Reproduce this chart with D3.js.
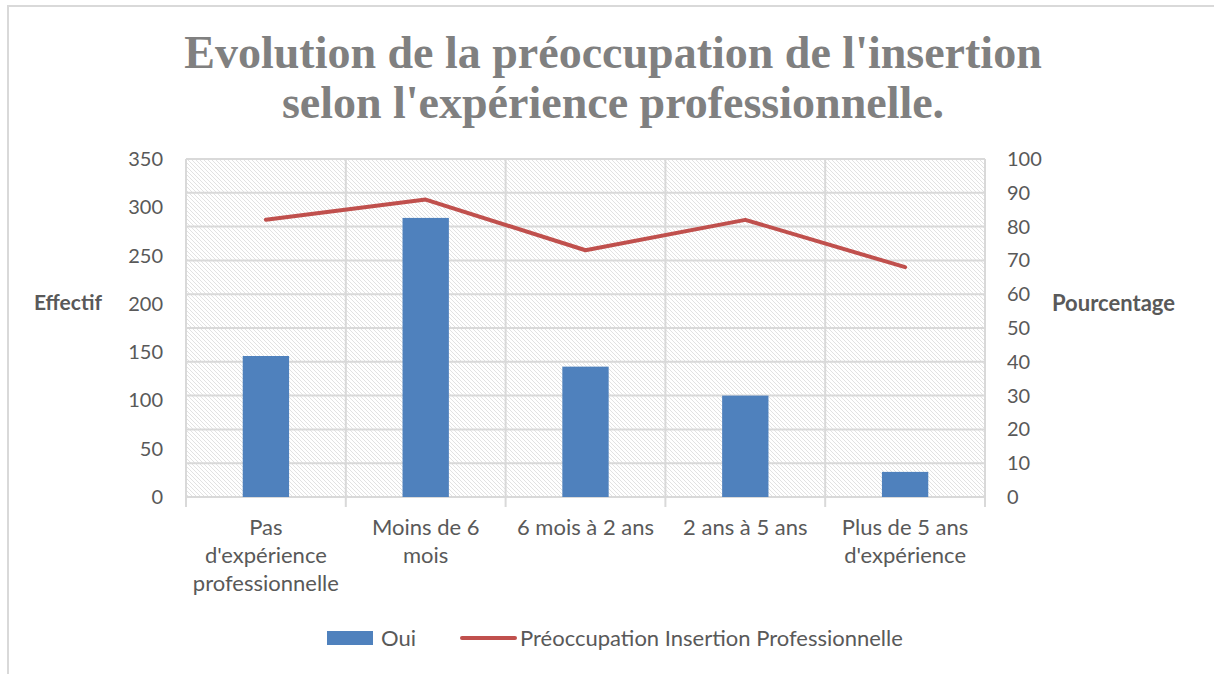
<!DOCTYPE html>
<html>
<head>
<meta charset="utf-8">
<script src="https://cdn.jsdelivr.net/npm/d3@7"></script>
<style>
  body { margin: 0; background: #fff; }
  svg text { font-family: Lato, "Open Sans", sans-serif; fill: #595959; }
  svg text.title { font-family: "Liberation Serif", "DejaVu Serif", serif; fill: #808080; }
</style>
</head>
<body>
<svg id="chart" width="1214" height="674"></svg>
<script>
// data
const categories = [
  ["Pas", "d'expérience", "professionnelle"],
  ["Moins de 6", "mois"],
  ["6 mois à 2 ans"],
  ["2 ans à 5 ans"],
  ["Plus de 5 ans", "d'expérience"]
];
const oui = [146, 289, 135, 105, 26];
const preoccupation = [82, 88, 73, 82, 68];
const leftTicks = [0, 50, 100, 150, 200, 250, 300, 350];
const rightTicks = [0, 10, 20, 30, 40, 50, 60, 70, 80, 90, 100];
const titleLines = ["Evolution de la préoccupation de l'insertion", "selon l'expérience professionnelle."];

const svg = d3.select("#chart");
const plot = { left: 186, right: 985, top: 159, bottom: 497 };

// outer frame (only top/left edges visible)
svg.append("rect")
  .attr("x", 8).attr("y", 6)
  .attr("width", 1230).attr("height", 700)
  .attr("fill", "#fff")
  .attr("stroke", "#d9d9d9").attr("stroke-width", 2);

// hatch pattern for plot background
const pat = svg.append("defs").append("pattern")
  .attr("id", "hatch")
  .attr("patternUnits", "userSpaceOnUse")
  .attr("width", 4).attr("height", 4);
pat.append("path")
  .attr("d", "M-1,-1 L5,5 M-1,3 L1,5 M3,-1 L5,1")
  .attr("stroke", "#e2e2e2").attr("stroke-width", 1);

const idx = d3.range(categories.length);
const x = d3.scaleBand().domain(idx).range([plot.left, plot.right])
  .paddingInner(0.71).paddingOuter(0.355);
const step = (plot.right - plot.left) / categories.length;
const yL = d3.scaleLinear().domain([0, 350]).range([plot.bottom, plot.top]);
const yR = d3.scaleLinear().domain([0, 100]).range([plot.bottom, plot.top]);

svg.append("rect")
  .attr("x", plot.left).attr("y", plot.top)
  .attr("width", plot.right - plot.left).attr("height", plot.bottom - plot.top)
  .attr("fill", "url(#hatch)");

// gridlines
svg.append("g").selectAll("line").data(rightTicks.slice(1)).join("line")
  .attr("x1", plot.left).attr("x2", plot.right)
  .attr("y1", d => yR(d)).attr("y2", d => yR(d))
  .attr("stroke", "#d9d9d9").attr("stroke-width", 2);
svg.append("g").selectAll("line").data(d3.range(categories.length + 1)).join("line")
  .attr("x1", d => plot.left + d * step).attr("x2", d => plot.left + d * step)
  .attr("y1", plot.top).attr("y2", plot.bottom + 10)
  .attr("stroke", "#d9d9d9").attr("stroke-width", 2);
svg.append("line")
  .attr("x1", plot.left).attr("x2", plot.right)
  .attr("y1", plot.bottom).attr("y2", plot.bottom)
  .attr("stroke", "#d9d9d9").attr("stroke-width", 2);

// bars
svg.append("g").selectAll("rect").data(oui).join("rect")
  .attr("x", (d, i) => x(i)).attr("width", x.bandwidth())
  .attr("y", d => yL(d)).attr("height", d => yL(0) - yL(d))
  .attr("fill", "#4f81bd");

// line
const line = d3.line()
  .x((d, i) => x(i) + x.bandwidth() / 2)
  .y(d => yR(d));
svg.append("path").datum(preoccupation)
  .attr("d", line)
  .attr("fill", "none").attr("stroke", "#c0504d")
  .attr("stroke-width", 4).attr("stroke-linecap", "round").attr("stroke-linejoin", "round");

// left axis labels
svg.append("g").selectAll("text").data(leftTicks).join("text")
  .attr("x", 163).attr("y", d => yL(d)).attr("dy", "0.35em")
  .attr("text-anchor", "end").attr("font-size", 20)
  .text(d => d);
// right axis labels
svg.append("g").selectAll("text").data(rightTicks).join("text")
  .attr("x", 1007).attr("y", d => yR(d)).attr("dy", "0.35em")
  .attr("text-anchor", "start").attr("font-size", 20)
  .text(d => d);

svg.append("text").attr("x", 102).attr("y", 303).attr("dy", "0.35em")
  .attr("text-anchor", "end")
  .attr("font-size", 21).attr("font-weight", "bold").text("Effectif");
svg.append("text").attr("x", 1052).attr("y", 303).attr("dy", "0.35em")
  .attr("font-size", 22).attr("font-weight", "bold").text("Pourcentage");

// category labels
svg.append("g").selectAll("text").data(categories).join("text")
  .attr("text-anchor", "middle").attr("font-size", 22)
  .each(function (lines, i) {
    d3.select(this).selectAll("tspan").data(lines).join("tspan")
      .attr("x", x(i) + x.bandwidth() / 2)
      .attr("y", (d, j) => 535 + j * 28)
      .text(d => d);
  });

// title
svg.append("g").selectAll("text").data(titleLines).join("text")
  .attr("class", "title")
  .attr("x", 613).attr("y", (d, i) => 68 + i * 50)
  .attr("text-anchor", "middle")
  .attr("font-weight", "bold").attr("font-size", 46)
  .text(d => d);

// legend
const lg = svg.append("g");
lg.append("rect").attr("x", 327).attr("y", 631).attr("width", 46).attr("height", 14).attr("fill", "#4f81bd");
lg.append("text").attr("x", 381).attr("y", 638).attr("dy", "0.35em").attr("font-size", 22).text("Oui");
lg.append("line").attr("x1", 462).attr("x2", 515).attr("y1", 638).attr("y2", 638)
  .attr("stroke", "#c0504d").attr("stroke-width", 4).attr("stroke-linecap", "round");
lg.append("text").attr("x", 520).attr("y", 638).attr("dy", "0.35em").attr("font-size", 22)
  .text("Préoccupation Insertion Professionnelle");
</script>
</body>
</html>
